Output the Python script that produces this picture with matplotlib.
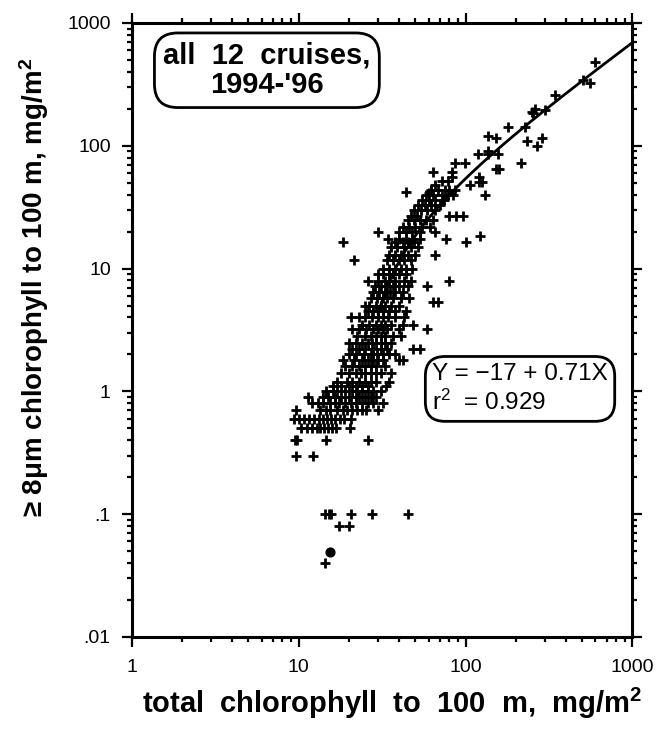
import matplotlib
matplotlib.use('Agg')
import matplotlib.pyplot as plt
import numpy as np
from matplotlib.ticker import LogLocator, NullFormatter

# total chlorophyll to 100 m (x) and >=8um chlorophyll to 100 m (y), mg/m2
total_chl = [
    14.3,
    17.5, 20.0,
    14.3, 15.2, 15.7, 20.7, 27.7, 45.3,
    9.7, 12.2,
    9.5, 9.8, 14.5, 26.0,
    10.4, 11.2, 12.0, 12.8, 13.5, 14.2, 15.0, 15.8, 16.8, 20.2,
    9.4, 10.0, 10.8, 11.6, 12.4, 13.2, 14.0, 14.8, 15.6, 16.5, 17.6, 18.8, 20.5,
    9.7, 13.4, 14.5, 15.5, 17.0, 18.5, 19.5, 21.0, 22.5, 24.0, 25.5, 30.0,
    12.0, 13.0, 14.0, 15.5, 16.5, 17.5, 19.0, 20.5, 22.0, 24.0, 26.0, 28.0, 32.0,
    11.4, 14.0, 15.0, 16.5, 18.0, 20.0, 22.0, 23.0, 25.0, 27.0, 29.0,
    14.5, 16.0, 17.0, 19.0, 21.0, 22.5, 24.0, 26.0, 28.0, 31.0,
    16.0, 18.0, 20.0, 22.0, 24.0, 26.0, 33.6,
    17.0, 19.5, 21.0, 23.0, 25.0, 27.0, 29.0, 35.0,
    18.0, 20.0, 22.0, 23.5, 25.0, 27.0, 29.0, 31.0, 36.0,
    19.0, 21.0, 23.0, 25.0, 27.0, 29.0, 33.0,
    18.5, 21.5, 24.0, 26.0, 28.0, 30.0, 32.0, 40.0, 42.0,
    20.0, 22.0, 24.5, 27.0, 29.5, 32.0, 35.0, 38.0,
    21.0, 23.0, 25.0, 28.0, 31.0, 34.0, 48.5, 53.0,
    20.0, 22.0, 24.0, 26.0, 27.5, 29.0, 31.0, 33.0, 36.0,
    22.5, 25.0, 27.0, 29.0, 31.0, 33.0, 37.0, 41.0,
    21.0, 23.0, 25.5, 28.0, 30.0, 32.0, 34.0, 40.0, 59.0,
    24.0, 26.5, 29.0, 31.0, 33.0, 36.0, 42.0, 48.5,
    20.7, 23.0, 25.0, 27.5, 30.0, 32.0, 34.5, 38.0, 43.0,
    26.0, 28.0, 30.0, 32.0, 35.0, 38.0, 44.0,
    25.0, 26.5, 29.0, 31.0, 33.0, 36.0, 40.0,
    64.0, 68.0,
    27.0, 29.5, 32.0, 34.0, 37.0, 41.0, 46.0,
    28.0, 30.5, 33.0, 35.5, 38.0, 42.0,
    28.5, 31.0, 34.0, 37.0, 40.0, 45.0, 59.0,
    26.0, 30.0, 33.0, 35.0, 38.0, 43.0, 47.0, 79.6,
    30.0, 32.0, 35.0, 37.0, 40.0, 44.0,
    32.0, 35.0, 38.0, 41.0, 44.0, 48.0,
    21.4, 34.0, 37.0, 40.0, 43.0, 47.0,
    35.0, 38.0, 41.0, 45.0, 50.0, 66.0,
    36.0, 39.0, 43.0, 47.0, 52.0,
    18.4, 38.0, 42.0, 45.0, 49.0, 100.0,
    34.3, 40.0, 44.0, 48.0, 53.0, 76.0,
    122.0,
    29.7, 40.0, 44.0, 48.0, 53.0, 65.5,
    42.0, 46.0, 50.0, 55.0, 61.0,
    45.0, 49.0, 53.0, 58.0, 64.0,
    47.0, 51.0, 80.0, 88.0, 97.0,
    49.0, 54.0, 59.0, 66.0,
    52.0, 57.0, 62.0, 70.0,
    55.0, 60.0, 66.0, 74.0,
    44.0, 58.0, 60.0, 64.0, 72.0, 78.0, 84.0, 131.0,
    62.0, 68.0, 75.0, 80.0, 87.0,
    66.0, 106.0,
    72.0, 78.0, 120.0, 125.0,
    83.0, 120.0,
    64.0, 83.0,
    152.0, 158.0,
    86.0, 99.0, 214.0,
    119.0, 137.0, 157.0,
    137.0,
    267.0,
    234.0,
    153.0, 289.0,
    137.0,
    180.0, 227.0,
    250.0, 255.0, 260.0, 299.0,
    343.0,
    557.0,
    505.0,
    597.0,
]
large_chl = [
    0.04,
    0.08, 0.08,
    0.1, 0.1, 0.1, 0.1, 0.1, 0.1,
    0.3, 0.3,
    0.4, 0.4, 0.4, 0.4,
    0.5, 0.5, 0.5, 0.5, 0.5, 0.5, 0.5, 0.5, 0.5, 0.5,
    0.6, 0.6, 0.6, 0.6, 0.6, 0.6, 0.6, 0.6, 0.6, 0.6, 0.6, 0.6, 0.6,
    0.7, 0.7, 0.7, 0.7, 0.7, 0.7, 0.7, 0.7, 0.7, 0.7, 0.7, 0.7,
    0.8, 0.8, 0.8, 0.8, 0.8, 0.8, 0.8, 0.8, 0.8, 0.8, 0.8, 0.8, 0.8,
    0.9, 0.9, 0.9, 0.9, 0.9, 0.9, 0.9, 0.9, 0.9, 0.9, 0.9,
    1.0, 1.0, 1.0, 1.0, 1.0, 1.0, 1.0, 1.0, 1.0, 1.0,
    1.1, 1.1, 1.1, 1.1, 1.1, 1.1, 1.1,
    1.2, 1.2, 1.2, 1.2, 1.2, 1.2, 1.2, 1.2,
    1.4, 1.4, 1.4, 1.4, 1.4, 1.4, 1.4, 1.4, 1.4,
    1.6, 1.6, 1.6, 1.6, 1.6, 1.6, 1.6,
    1.8, 1.8, 1.8, 1.8, 1.8, 1.8, 1.8, 1.8, 1.8,
    2.0, 2.0, 2.0, 2.0, 2.0, 2.0, 2.0, 2.0,
    2.2, 2.2, 2.2, 2.2, 2.2, 2.2, 2.2, 2.2,
    2.5, 2.5, 2.5, 2.5, 2.5, 2.5, 2.5, 2.5, 2.5,
    2.8, 2.8, 2.8, 2.8, 2.8, 2.8, 2.8, 2.8,
    3.2, 3.2, 3.2, 3.2, 3.2, 3.2, 3.2, 3.2, 3.2,
    3.5, 3.5, 3.5, 3.5, 3.5, 3.5, 3.5, 3.5,
    4.0, 4.0, 4.0, 4.0, 4.0, 4.0, 4.0, 4.0, 4.0,
    4.5, 4.5, 4.5, 4.5, 4.5, 4.5, 4.5,
    5.0, 5.0, 5.0, 5.0, 5.0, 5.0, 5.0,
    5.3, 5.3,
    5.8, 5.8, 5.8, 5.8, 5.8, 5.8, 5.8,
    6.5, 6.5, 6.5, 6.5, 6.5, 6.5,
    7.2, 7.2, 7.2, 7.2, 7.2, 7.2, 7.2,
    7.9, 7.9, 7.9, 7.9, 7.9, 7.9, 7.9, 7.9,
    9.0, 9.0, 9.0, 9.0, 9.0, 9.0,
    10.0, 10.0, 10.0, 10.0, 10.0, 10.0,
    11.7, 11.7, 11.7, 11.7, 11.7, 11.7,
    13.0, 13.0, 13.0, 13.0, 13.0, 13.0,
    15.0, 15.0, 15.0, 15.0, 15.0,
    16.6, 16.6, 16.6, 16.6, 16.6, 16.6,
    17.5, 17.5, 17.5, 17.5, 17.5, 17.5,
    18.5,
    20.0, 20.0, 20.0, 20.0, 20.0, 20.0,
    22.0, 22.0, 22.0, 22.0, 22.0,
    25.0, 25.0, 25.0, 25.0, 25.0,
    27.0, 27.0, 27.0, 27.0, 27.0,
    30.0, 30.0, 30.0, 30.0,
    33.0, 33.0, 33.0, 33.0,
    36.0, 36.0, 36.0, 36.0,
    42.0, 40.0, 41.0, 40.0, 40.0, 40.0, 40.0, 40.0,
    44.0, 44.0, 44.0, 44.0, 44.0,
    48.0, 48.0,
    52.0, 52.0, 51.0, 51.0,
    56.0, 56.0,
    61.0, 61.0,
    65.0, 65.0,
    72.0, 72.0, 72.0,
    85.0, 85.0, 85.0,
    90.0,
    100.0,
    110.0,
    115.0, 115.0,
    119.0,
    143.0, 143.0,
    190.0, 186.0, 200.0, 195.0,
    259.0,
    323.0,
    343.0,
    484.0,
]
# the one sample drawn as a filled dot
dot_total = [15.5]
dot_large = [0.049]

# regression Y = -17 + 0.71X
intercept = -17.0
slope = 0.71
fit_start = 30.0

x_ticks = [1, 10, 100, 1000]
x_tick_labels = ['1', '10', '100', '1000']
y_ticks = [0.01, 0.1, 1, 10, 100, 1000]
y_tick_labels = ['.01', '.1', '1', '10', '100', '1000']

plt.rcParams['font.family'] = ['Liberation Sans', 'DejaVu Sans']
plt.rcParams['mathtext.fontset'] = 'custom'
plt.rcParams['mathtext.rm'] = 'Liberation Sans'
plt.rcParams['mathtext.bf'] = 'Liberation Sans:bold'
plt.rcParams['mathtext.default'] = 'regular'

fig = plt.figure(figsize=(6.62, 7.34), dpi=100)
ax = fig.add_axes([0.1989, 0.1322, 0.7565, 0.8365])
ax.set_xscale('log')
ax.set_yscale('log')

ax.scatter(total_chl, large_chl, marker='+', s=42, linewidths=2,
           color='black', zorder=3)
ax.scatter(dot_total, dot_large, marker='o', s=40, color='black', zorder=3)

fit_x = np.logspace(np.log10(fit_start), 3, 200)
ax.plot(fit_x, intercept + slope * fit_x, color='black', lw=2, zorder=4)

ax.set_xlim(1, 1000)
ax.set_ylim(0.01, 1000)
ax.set_xticks(x_ticks)
ax.set_xticklabels(x_tick_labels)
ax.set_yticks(y_ticks)
ax.set_yticklabels(y_tick_labels)
for a in (ax.xaxis, ax.yaxis):
    a.set_minor_locator(LogLocator(base=10, subs=np.arange(2, 10)))
    a.set_minor_formatter(NullFormatter())

ax.tick_params(which='both', direction='out', top=True, right=True,
               width=1.6, color='black')
ax.tick_params(which='major', length=7, labelsize=14, pad=8)
ax.tick_params(which='minor', length=3.5)
ax.tick_params(axis='x', which='major', pad=9)
for s in ax.spines.values():
    s.set_linewidth(2.2)

ax.set_xlabel(r'total  chlorophyll  to  100  m,  mg/m$^{\mathbf{2}}$',
              fontsize=21, fontweight='bold')
ax.xaxis.set_label_coords(0.52, -0.108)
ax.xaxis.label.set_va('center')
ax.set_ylabel('\u2265 8\u03bcm chlorophyll to 100 m, mg/m$^{\\mathbf{2}}$',
              fontsize=20, fontweight='bold')
ax.yaxis.set_label_coords(-0.195, 0.57)
ax.yaxis.label.set_va('center')

ax.text(0.27, 0.923, "all  12  cruises,\n1994-'96", transform=ax.transAxes,
        ha='center', va='center', fontsize=21, fontweight='bold',
        linespacing=1.05,
        bbox=dict(boxstyle='round,pad=0.3,rounding_size=0.8', fc='white',
                  ec='black', lw=2))
ax.text(0.6, 0.404, 'Y = \u221217 + 0.71X\nr$^{2}$  = 0.929',
        transform=ax.transAxes, ha='left', va='center', fontsize=17.5,
        linespacing=1.2,
        bbox=dict(boxstyle='round,pad=0.28,rounding_size=0.8', fc='white',
                  ec='black', lw=2))

fig.savefig('out.png', dpi=100)
